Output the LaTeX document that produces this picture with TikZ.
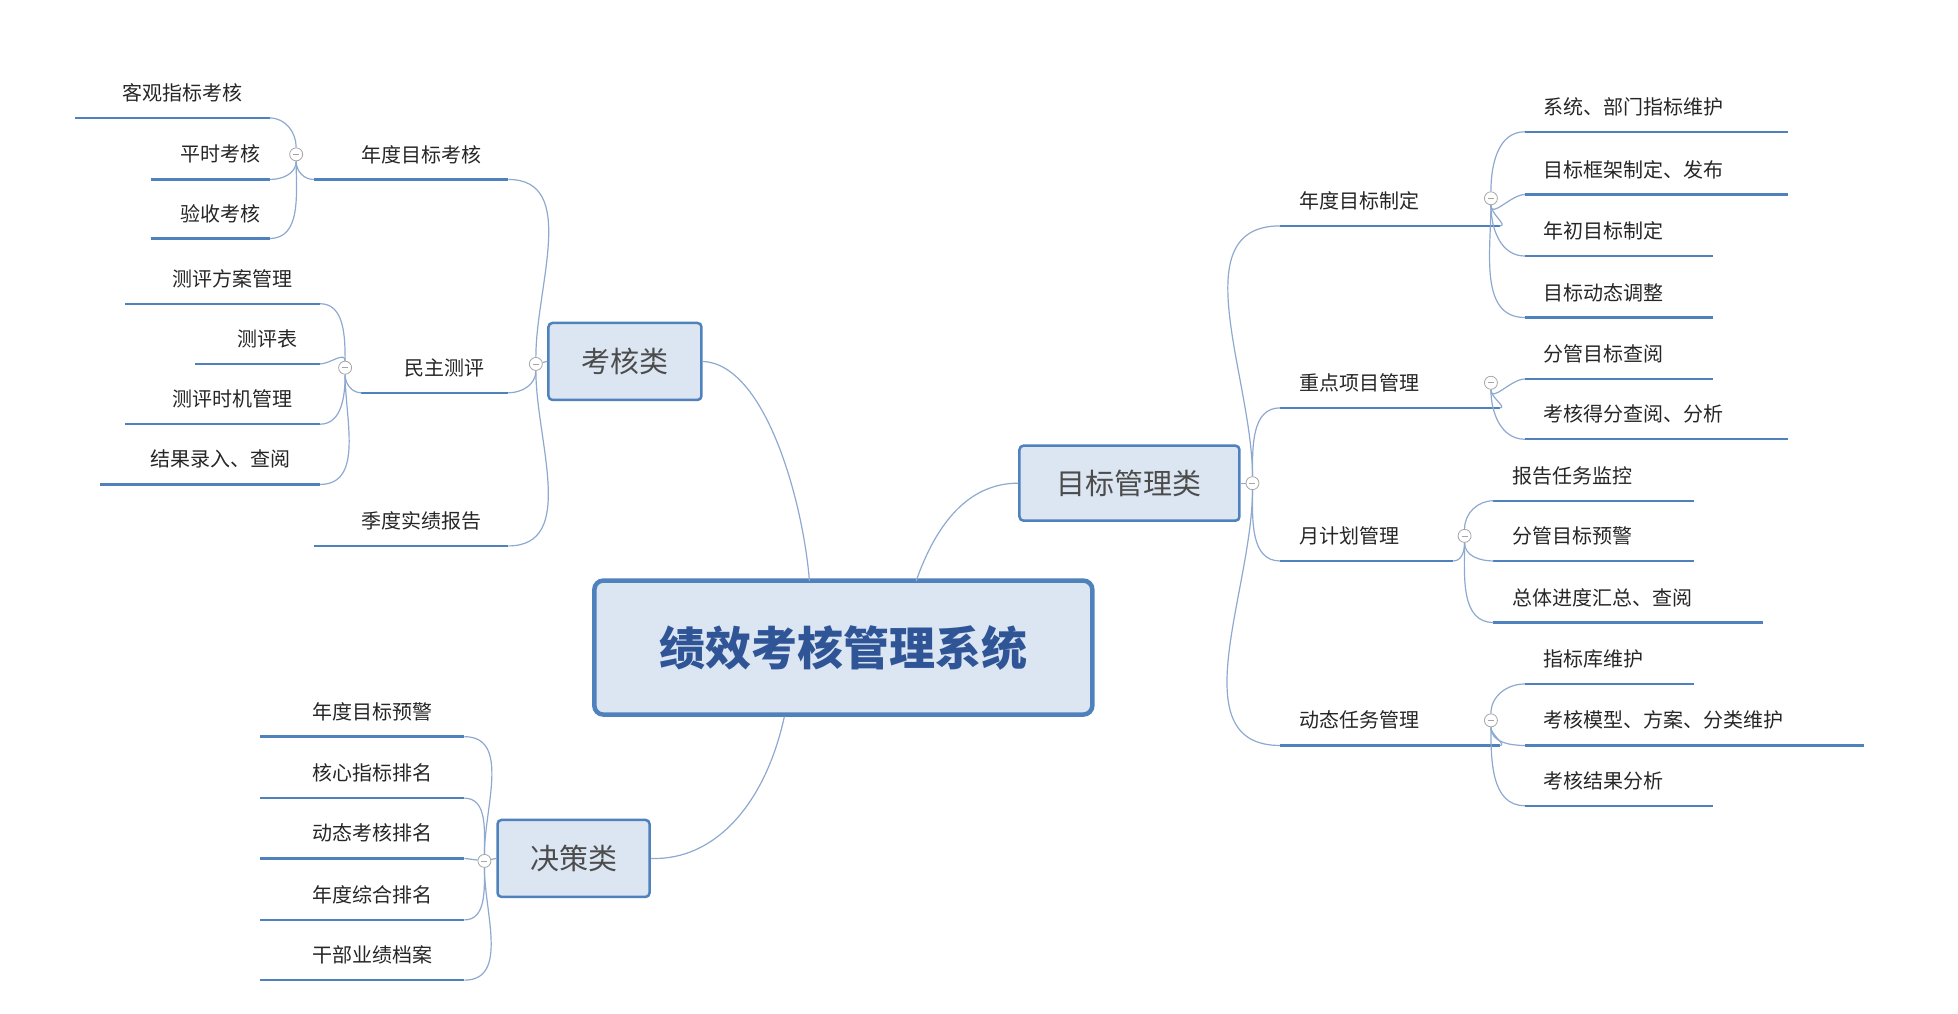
\documentclass[tikz,border=0pt]{standalone}
\usepackage{fontspec}
\setmainfont{Noto Sans CJK SC}
\definecolor{ulc}{HTML}{4F81BD}
\definecolor{cnc}{HTML}{8EA9CF}
\definecolor{boxf}{HTML}{DCE6F2}
\definecolor{ctxt}{HTML}{2F5597}
\begin{document}
\begin{tikzpicture}[x=1.255pt,y=-1.255pt,
  ul/.style={draw=ulc, line width=2.4pt},
  conn/.style={draw=cnc, line width=1.2pt},
  leaftxt/.style={font=\fontsize{20}{22}\selectfont, text=black!85, inner sep=0pt},
  cattxt/.style={font=\fontsize{29}{32}\selectfont, text=black!70, draw=ulc, line width=2.5pt, fill=boxf, rounded corners=4pt, inner sep=0pt},
  tog/.style={circle, draw=gray!70, fill=white, inner sep=0pt, minimum size=13pt, line width=0.8pt, path picture={\draw[gray!70,line width=0.7pt] ([xshift=-3pt]path picture bounding box.center) -- ([xshift=3pt]path picture bounding box.center);}}]
\useasboundingbox (0,0) rectangle (1560.2,807.2);
\newcommand\lleaf[5]{\coordinate (#1-l) at (#2,#4); \coordinate (#1-r) at (#3,#4);
  \node[leaftxt] (#1) at ({(#2+#3)/2+8},#4-20) {#5}; \draw[ul] (#1-l) -- (#1-r);}
\newcommand\rleaf[5]{\coordinate (#1-l) at (#2,#4); \coordinate (#1-r) at (#3,#4);
  \node[leaftxt,anchor=west] (#1) at (#2+15,#4-20) {#5}; \draw[ul] (#1-l) -- (#1-r);}

% center
\node[draw=ulc, line width=4.5pt, fill=boxf, rounded corners=9pt, minimum width=498pt, minimum height=134pt, inner sep=0pt,
  font=\bfseries\fontsize{46}{50}\selectfont, text=ctxt] (c) at (672,516) {绩效考核管理系统};
% categories
\node[cattxt, minimum width=153pt, minimum height=77pt] (k) at (498,288) {考核类};
\node[cattxt, minimum width=152pt, minimum height=77pt] (j) at (457,684) {决策类};
\node[cattxt, minimum width=220pt, minimum height=75pt] (m) at (900,385) {目标管理类};
\draw[conn] (645,463) .. controls (640,400) and (610,290) .. (k.east);
\draw[conn] (730,463) .. controls (745,420) and (770,385) .. (m.west);
\draw[conn] (625,571) .. controls (610,640) and (570,686) .. (j.east);

% 考核类 branch
\lleaf{a1}{250}{405}{143}{年度目标考核}
\lleaf{a2}{288}{405}{313}{民主测评}
\lleaf{a3}{250}{405}{435}{季度实绩报告}
\node[tog] (tk) at (427,290) {};
\draw[conn] (tk) to[out=90,in=0] (a1-r);
\draw[conn] (tk) to[out=-90,in=0] (a2-r);
\draw[conn] (tk) to[out=-90,in=0] (a3-r);
\draw[conn] (k.west) -- (tk);

\lleaf{b1}{60}{215}{94}{客观指标考核}
\lleaf{b2}{120}{215}{143}{平时考核}
\lleaf{b3}{120}{215}{190}{验收考核}
\node[tog] (t1) at (236,123) {};
\draw[conn] (t1) to[out=90,in=0] (b1-r);
\draw[conn] (t1) to[out=-90,in=0] (b2-r);
\draw[conn] (t1) to[out=-90,in=0] (b3-r);
\draw[conn] (a1-l) to[out=180,in=-90] (t1);

\lleaf{c1}{100}{255}{242}{测评方案管理}
\lleaf{c2}{155}{255}{290}{测评表}
\lleaf{c3}{100}{255}{338}{测评时机管理}
\lleaf{c4}{80}{255}{386}{结果录入、查阅}
\node[tog] (t2) at (275,293) {};
\draw[conn] (t2) to[out=90,in=0] (c1-r);
\draw[conn] (t2) to[out=90,in=0] (c2-r);
\draw[conn] (t2) to[out=-90,in=0] (c3-r);
\draw[conn] (t2) to[out=-90,in=0] (c4-r);
\draw[conn] (a2-l) to[out=180,in=-90] (t2);

% 决策类 branch
\lleaf{d1}{207}{370}{587}{年度目标预警}
\lleaf{d2}{207}{370}{636}{核心指标排名}
\lleaf{d3}{207}{370}{684}{动态考核排名}
\lleaf{d4}{207}{370}{733}{年度综合排名}
\lleaf{d5}{207}{370}{781}{干部业绩档案}
\node[tog] (tj) at (386,686) {};
\draw[conn] (tj) to[out=90,in=0] (d1-r);
\draw[conn] (tj) to[out=90,in=0] (d2-r);
\draw[conn] (tj) -- (d3-r);
\draw[conn] (tj) to[out=-90,in=0] (d4-r);
\draw[conn] (tj) to[out=-90,in=0] (d5-r);
\draw[conn] (j.west) -- (tj);

% 目标管理类 branch
\rleaf{e1}{1020}{1195}{180}{年度目标制定}
\rleaf{e2}{1020}{1195}{325}{重点项目管理}
\rleaf{e3}{1020}{1158}{447}{月计划管理}
\rleaf{e4}{1020}{1195}{594}{动态任务管理}
\node[tog] (tm) at (998,385) {};
\draw[conn] (m.east) -- (tm);
\draw[conn] (tm) to[out=90,in=180] (e1-l);
\draw[conn] (tm) to[out=90,in=180] (e2-l);
\draw[conn] (tm) to[out=-90,in=180] (e3-l);
\draw[conn] (tm) to[out=-90,in=180] (e4-l);

\rleaf{f1}{1215}{1425}{105}{系统、部门指标维护}
\rleaf{f2}{1215}{1425}{155}{目标框架制定、发布}
\rleaf{f3}{1215}{1365}{204}{年初目标制定}
\rleaf{f4}{1215}{1365}{253}{目标动态调整}
\node[tog] (u1) at (1188,158) {};
\draw[conn] (e1-r) to[out=0,in=-90] (u1);
\draw[conn] (u1) to[out=90,in=180] (f1-l);
\draw[conn] (u1) to[out=-90,in=180] (f2-l);
\draw[conn] (u1) to[out=-90,in=180] (f3-l);
\draw[conn] (u1) to[out=-90,in=180] (f4-l);

\rleaf{g1}{1215}{1365}{302}{分管目标查阅}
\rleaf{g2}{1215}{1425}{350}{考核得分查阅、分析}
\node[tog] (u2) at (1188,305) {};
\draw[conn] (e2-r) to[out=0,in=-90] (u2);
\draw[conn] (u2) to[out=-90,in=180] (g1-l);
\draw[conn] (u2) to[out=-90,in=180] (g2-l);

\rleaf{h1}{1190}{1350}{399}{报告任务监控}
\rleaf{h2}{1190}{1350}{447}{分管目标预警}
\rleaf{h3}{1190}{1405}{496}{总体进度汇总、查阅}
\node[tog] (u3) at (1167,427) {};
\draw[conn] (e3-r) to[out=0,in=-90] (u3);
\draw[conn] (u3) to[out=90,in=180] (h1-l);
\draw[conn] (u3) to[out=-90,in=180] (h2-l);
\draw[conn] (u3) to[out=-90,in=180] (h3-l);

\rleaf{i1}{1215}{1350}{545}{指标库维护}
\rleaf{i2}{1215}{1485}{594}{考核模型、方案、分类维护}
\rleaf{i3}{1215}{1365}{642}{考核结果分析}
\node[tog] (u4) at (1188,574) {};
\draw[conn] (e4-r) to[out=0,in=-90] (u4);
\draw[conn] (u4) to[out=90,in=180] (i1-l);
\draw[conn] (u4) to[out=-90,in=180] (i2-l);
\draw[conn] (u4) to[out=-90,in=180] (i3-l);
\end{tikzpicture}
\end{document}
